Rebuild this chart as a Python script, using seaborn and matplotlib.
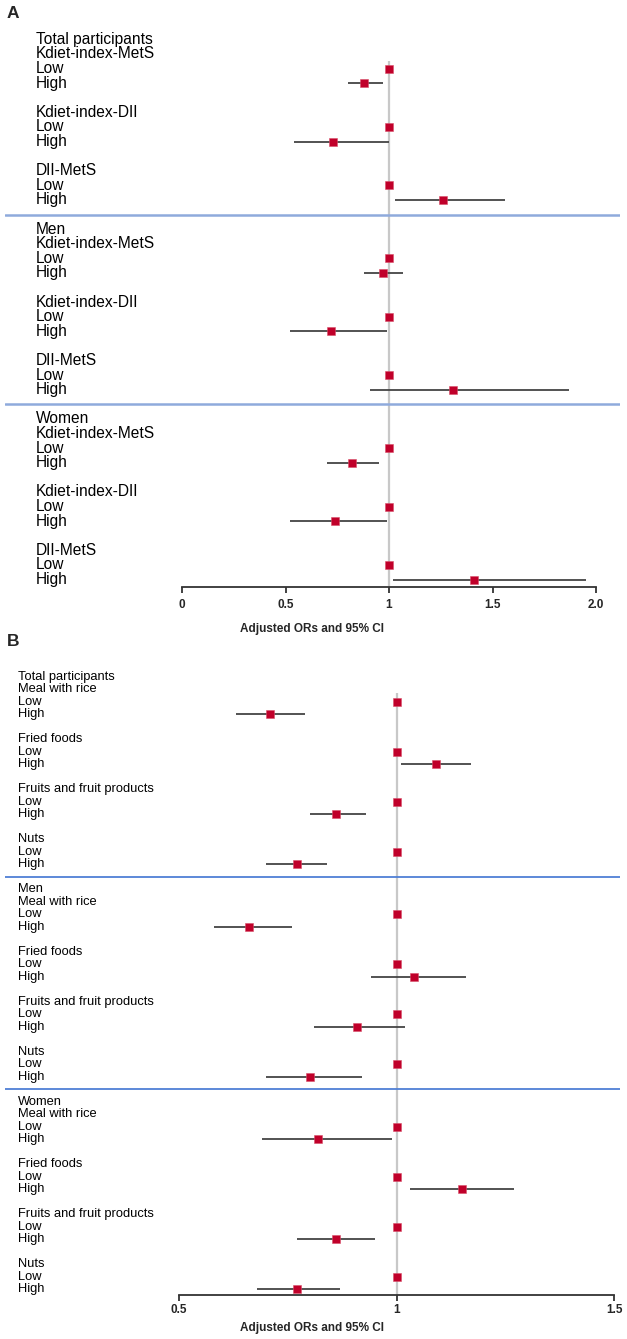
import pandas as pd
import matplotlib.pyplot as plt
import seaborn as sns

# data: adjusted ORs for the "High" level (Low is the reference, OR = 1)
sections = ["Total participants", "Men", "Women"]

exposures_a = ["Kdiet-index-MetS", "Kdiet-index-DII", "DII-MetS"]
or_a = [[0.88, 0.73, 1.26], [0.97, 0.72, 1.31], [0.82, 0.74, 1.41]]
lo_a = [[0.80, 0.54, 1.03], [0.88, 0.52, 0.91], [0.70, 0.52, 1.02]]
hi_a = [[0.97, 1.00, 1.56], [1.07, 0.99, 1.87], [0.95, 0.99, 1.95]]
ticks_a = [0, 0.5, 1, 1.5, 2.0]
ticklabels_a = ["0", "0.5", "1", "1.5", "2.0"]

exposures_b = ["Meal with rice", "Fried foods", "Fruits and fruit products", "Nuts"]
or_b = [[0.71, 1.09, 0.86, 0.77], [0.66, 1.04, 0.91, 0.80], [0.82, 1.15, 0.86, 0.77]]
lo_b = [[0.63, 1.01, 0.80, 0.70], [0.58, 0.94, 0.81, 0.70], [0.69, 1.03, 0.77, 0.68]]
hi_b = [[0.79, 1.17, 0.93, 0.84], [0.76, 1.16, 1.02, 0.92], [0.99, 1.27, 0.95, 0.87]]
ticks_b = [0.5, 1, 1.5]
ticklabels_b = ["0.5", "1", "1.5"]

levels = ["Low", "High"]

sns.set_style("white")
plt.rcParams['font.family'] = ['Liberation Sans', 'DejaVu Sans']

W, H = 627, 1339
fig = plt.figure(figsize=(W / 100, H / 100), dpi=100)

RED = "#C0002A"
CI_COL = "#444444"
REF_COL = "#C8C8C8"


def build(exposures, ors, los, his):
    labels, recs, seps = [], [], []
    r = 0
    for si, sec in enumerate(sections):
        labels.append((r, sec))
        r += 1
        for ei, ex in enumerate(exposures):
            labels.append((r, ex))
            r += 1
            for lev in levels:
                labels.append((r, lev))
                if lev == "Low":
                    recs.append(dict(row=r, odds=1.0, lo=1.0, hi=1.0, level=lev))
                else:
                    recs.append(dict(row=r, odds=ors[si][ei], lo=los[si][ei],
                                     hi=his[si][ei], level=lev))
                r += 1
            r += 1
        seps.append(r - 1)
    return labels, pd.DataFrame(recs), seps[:-1], r - 2


def panel(rect, exposures, ors, los, his, xlim, ticks, ticklabels,
          fs, text_x, ref_top, sep_col, sep_lw, tickpad, labelpad):
    ax = fig.add_axes(rect)
    labels, df, seps, last = build(exposures, ors, los, his)
    bottom = last + 0.5

    ax.vlines(1, ref_top, bottom, color=REF_COL, lw=1.6, zorder=1)
    for s in seps:
        ax.axhline(s, color=sep_col, lw=sep_lw, zorder=1)
    high = df[df.level == "High"]
    ax.hlines(high.row, high.lo, high.hi, color=CI_COL, lw=1.3, zorder=2)
    sns.scatterplot(data=df, x="odds", y="row", marker="s", s=34, color=RED,
                    edgecolor="#D8506A", linewidth=0.4, zorder=3, ax=ax, legend=False)

    tr = ax.get_yaxis_transform()
    for r, t in labels:
        ax.text(text_x, r, t, transform=tr, ha="left", va="center", fontsize=fs,
                color="#000000")

    ax.set_xlim(*xlim)
    ax.set_ylim(bottom, -2)
    for side in ["top", "right", "left"]:
        ax.spines[side].set_visible(False)
    ax.spines["bottom"].set_bounds(ticks[0], ticks[-1])
    ax.spines["bottom"].set_color("#333333")
    ax.spines["bottom"].set_linewidth(1.3)
    ax.set_xticks(ticks)
    ax.set_xticklabels(ticklabels, fontweight="bold", fontsize=8.5)
    ax.tick_params(axis="x", direction="out", length=4, width=1.3, color="#333333",
                   pad=tickpad, bottom=True)
    ax.set_yticks([])
    ax.set_ylabel("")
    ax.set_xlabel("Adjusted ORs and 95% CI", fontweight="bold", fontsize=8.5,
                  labelpad=labelpad)
    return ax


def frac_rect(x0, x1, y_top, y_bot):
    return [x0 / W, 1 - y_bot / H, (x1 - x0) / W, (y_bot - y_top) / H]


# panel A: 0 -> 182 px, 2 -> 596 px, rows start at 39.3 px, 14.6 px apart
sa = (596 - 182) / 2.0
xlim_a = (0 - (182 - 5) / sa, 2.0 + (620 - 596) / sa)
row_a0, step_a = 39.3, 14.6
panel(frac_rect(5, 620, row_a0 - 2 * step_a, row_a0 + 37.5 * step_a),
      exposures_a, or_a, lo_a, hi_a, xlim_a, ticks_a, ticklabels_a,
      fs=11.2, text_x=(36 - 5) / 615, ref_top=1.5, sep_col="#8FAADC", sep_lw=1.8,
      tickpad=4.5, labelpad=9)

# panel B: 0.5 -> 179 px, 1.5 -> 614 px, rows start at 676.7 px, 12.5 px apart
sb = (614.3 - 179) / 1.0
xlim_b = (0.5 - (179 - 5) / sb, 1.5 + (620 - 614.3) / sb)
row_b0, step_b = 676.7, 12.5
panel(frac_rect(5, 620, row_b0 - 2 * step_b, row_b0 + 49.5 * step_b),
      exposures_b, or_b, lo_b, hi_b, xlim_b, ticks_b, ticklabels_b,
      fs=9.3, text_x=(18 - 5) / 615, ref_top=1.3, sep_col="#4F7FD6", sep_lw=1.3,
      tickpad=2.5, labelpad=4)

fig.text(7 / W, 1 - 13 / H, "A", fontsize=12.5, fontweight="bold", va="center", ha="left")
fig.text(7 / W, 1 - 641 / H, "B", fontsize=12.5, fontweight="bold", va="center", ha="left")

plt.savefig("out.png", dpi=100, facecolor="white")
